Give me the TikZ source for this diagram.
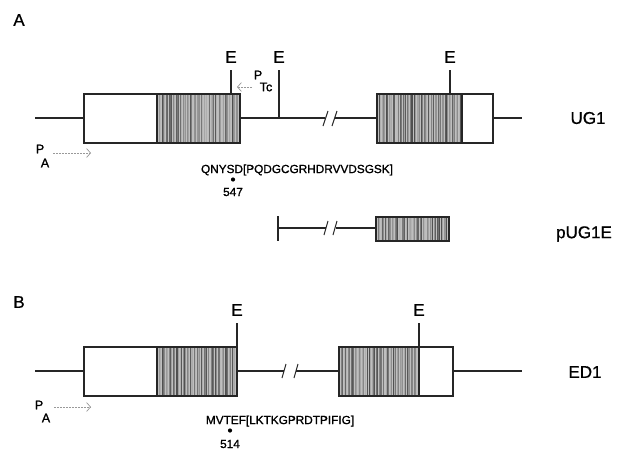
\documentclass[tikz,border=0pt]{standalone}
\usepackage{fontspec}
\setmainfont{Liberation Sans}
\newfontfamily\heavysans[FakeBold=1.2]{Liberation Sans}
\newfontfamily\medsans[FakeBold=0.8]{Liberation Sans}
\usetikzlibrary{arrows.meta}
\tikzset{
  ln/.style={line width=1.2pt, draw=black!85},
  bx/.style={line width=1.3pt, draw=black!85},
  tick/.style={line width=1.3pt, draw=black!85},
  big/.style={font=\medsans\fontsize{17}{17}\selectfont, inner sep=0pt},
  small/.style={font=\heavysans\fontsize{11.8}{12}\selectfont, inner sep=0pt},
  pl/.style={font=\heavysans\fontsize{12.5}{12}\selectfont, inner sep=0pt},
  prom/.style={draw=black!40, line width=0.8pt, dash pattern=on 2pt off 1pt, -{Straight Barb[length=4pt,width=9pt,line width=0.7pt]}},
  slash/.style={line width=1pt, draw=black!85},
}
\newcommand\stripebox[5]{%
  \fill[gray!50] (#2,#3) rectangle (#4,#5);
  \pgfmathtruncatemacro\nstr{(#4-#2)/1.4-1}
  \foreach \i in {0,...,\nstr}{%
    \pgfmathsetmacro\xx{#2+0.7+\i*1.4}
    \pgfmathsetmacro\gg{25+rnd*45}
    \draw[black!\gg, line width=0.8pt] (\xx,#3) -- (\xx,#5);
  }
  \draw[bx] (#2,#3) rectangle (#4,#5);
  \coordinate (#1) at (#4,#3);
}
\begin{document}
\begin{tikzpicture}[x=1pt,y=-1pt]
\pgfmathsetseed{42}
\useasboundingbox[fill=white] (0,0) rectangle (628,450);

% ---------- Panel A : UG1 ----------
\node[big] (lA) at (19,20) {A};
\coordinate (a0) at (35,118);
\coordinate (a1) at (84,118);
\draw[ln] (a0) -- (a1);
\draw[bx] (84,94) rectangle (157,143);
\stripebox{sA1}{157}{94}{240}{143}
\coordinate (a2) at (240,118);
\coordinate (a3) at (325,118);
\draw[ln] (a2) -- (a3);
\draw[slash] (323,126) -- (328,111);
\draw[slash] (332,126) -- (337,111);
\coordinate (a4) at (335,118);
\coordinate (a5) at (377,118);
\draw[ln] (a4) -- (a5);
\stripebox{sA2}{377}{94}{462}{143}
\draw[bx] (462,94) rectangle (493,143);
\coordinate (a6) at (493,118);
\coordinate (a7) at (522,118);
\draw[ln] (a6) -- (a7);
% E sites
\node[big] (eA1) at (231,57) {E};
\draw[tick] (231,70) -- (231,94);
\node[big] (eA2) at (279,57) {E};
\draw[tick] (279,70) -- (279,118);
\node[big] (eA3) at (450,57) {E};
\draw[tick] (450,70) -- (450,94);
\node[big] (ug1) at (588,118) {UG1};
% promoters
\node[pl] (pTc) at (258,75) {P};
\node[pl] (pTcs) at (266,87) {Tc};
\coordinate (pTcA) at (252,87);
\coordinate (pTcB) at (237,87);
\draw[prom] (pTcA) -- (pTcB);
\node[pl] (pA1) at (40,149) {P};
\node[pl] (pA1s) at (45,163) {A};
\coordinate (pAa) at (53,153);
\coordinate (pAb) at (91,153);
\draw[prom] (pAa) -- (pAb);
% sequence
\node[small] (seqA) at (297,170) {QNYSD[PQDGCGRHDRVVDSGSK]};
\fill (233,179.5) circle (2.1pt);
\node[small] (nA) at (233,192) {547};

% ---------- pUG1E ----------
\draw[tick] (278,216) -- (278,241);
\coordinate (p0) at (278,228);
\coordinate (p1) at (326,228);
\draw[ln] (p0) -- (p1);
\draw[slash] (324,235) -- (328,221);
\draw[slash] (333,235) -- (337,221);
\coordinate (p2) at (336,228);
\coordinate (p3) at (376,228);
\draw[ln] (p2) -- (p3);
\stripebox{sP}{376}{217}{449}{241}
\node[big] (pug) at (584,234) {pUG1E};

% ---------- Panel B : ED1 ----------
\node[big] (lB) at (19,302) {B};
\coordinate (b0) at (35,371);
\coordinate (b1) at (84,371);
\draw[ln] (b0) -- (b1);
\draw[bx] (84,347) rectangle (157,396);
\stripebox{sB1}{157}{347}{237}{396}
\coordinate (b2) at (237,371);
\coordinate (b3) at (284,371);
\draw[ln] (b2) -- (b3);
\draw[slash] (282,378) -- (286,364);
\draw[slash] (294,378) -- (298,364);
\coordinate (b4) at (296,371);
\coordinate (b5) at (339,371);
\draw[ln] (b4) -- (b5);
\stripebox{sB2}{339}{347}{419}{396}
\draw[bx] (419,347) rectangle (453,396);
\coordinate (b6) at (453,371);
\coordinate (b7) at (522,371);
\draw[ln] (b6) -- (b7);
\node[big] (eB1) at (237,310) {E};
\draw[tick] (237,323) -- (237,347);
\node[big] (eB2) at (419,310) {E};
\draw[tick] (419,323) -- (419,347);
\node[big] (ed1) at (585,372) {ED1};
\node[pl] (pB) at (39,405) {P};
\node[pl] (pBs) at (46,418) {A};
\coordinate (pBa) at (54,407);
\coordinate (pBb) at (91,407);
\draw[prom] (pBa) -- (pBb);
\node[small] (seqB) at (280,421) {MVTEF[LKTKGPRDTPIFIG]};
\fill (230,430.5) circle (2.1pt);
\node[small] (nB) at (230,444) {514};
\end{tikzpicture}
\end{document}
